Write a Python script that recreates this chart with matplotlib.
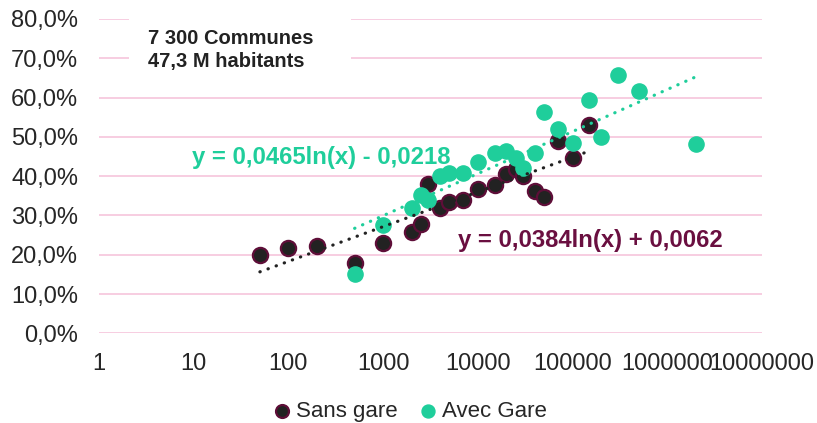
import matplotlib.pyplot as plt
import numpy as np
from matplotlib.patches import Rectangle

plt.rcParams['font.family'] = ['Liberation Sans', 'DejaVu Sans']

# population class (x) and share (y) - Sans gare
sans_x = [50, 100, 200, 500, 1000, 2000, 2500, 3000, 4000, 5000, 7000, 10000, 15000,
          20000, 25000, 30000, 40000, 50000, 70000, 100000, 150000]
sans_y = [0.199, 0.218, 0.222, 0.178, 0.230, 0.257, 0.279, 0.381, 0.320, 0.335, 0.339,
          0.367, 0.377, 0.405, 0.417, 0.400, 0.363, 0.346, 0.490, 0.445, 0.530]

# Avec gare
avec_x = [500, 1000, 2000, 2500, 3000, 4000, 5000, 7000, 10000, 15000, 20000, 25000,
          30000, 40000, 50000, 70000, 100000, 150000, 200000, 300000, 500000, 2000000]
avec_y = [0.150, 0.275, 0.318, 0.352, 0.339, 0.400, 0.409, 0.409, 0.437, 0.458, 0.465,
          0.445, 0.422, 0.458, 0.564, 0.519, 0.485, 0.595, 0.500, 0.657, 0.617, 0.482]

# trendline coefficients (y = a ln(x) + b) as shown on the chart
sans_a, sans_b = 0.0384, 0.0062
avec_a, avec_b = 0.0465, -0.0218

x_ticks = [1, 10, 100, 1000, 10000, 100000, 1000000, 10000000]
x_labels = ['1', '10', '100', '1000', '10000', '100000', '1000000', '10000000']
y_ticks = [0.0, 0.1, 0.2, 0.3, 0.4, 0.5, 0.6, 0.7, 0.8]
y_labels = ['0,0%', '10,0%', '20,0%', '30,0%', '40,0%', '50,0%', '60,0%', '70,0%', '80,0%']

green = '#1FCE9B'
dark = '#222222'
maroon = '#5E0E38'
label_maroon = '#6A0F40'
grid_pink = '#F7C9DE'

W, H = 817, 423
fig = plt.figure(figsize=(W / 100, H / 100), dpi=100)
ax = fig.add_axes([99 / W, 1 - 333.3 / H, (762 - 99) / W, (333.3 - 19) / H])

ax.set_xscale('log')
ax.set_xlim(1, 1e7)
ax.set_ylim(0, 0.8)
ax.set_xticks(x_ticks)
ax.set_xticklabels(x_labels)
ax.set_xticks([], minor=True)
ax.set_yticks(y_ticks)
ax.set_yticklabels(y_labels)
ax.tick_params(axis='both', length=0, labelsize=17, colors='#262626')
ax.tick_params(axis='x', pad=14)
ax.tick_params(axis='y', pad=15)
for s in ax.spines.values():
    s.set_visible(False)
ax.grid(axis='y', color=grid_pink, linewidth=1.3, zorder=0)
ax.set_axisbelow(True)

ax.scatter(sans_x, sans_y, s=120, color=dark, edgecolors=maroon, linewidths=1.6,
           zorder=3, label='Sans gare')
ax.scatter(avec_x, avec_y, s=120, color=green, edgecolors=green, linewidths=1.0,
           zorder=4, label='Avec Gare')

# trendlines
tx = np.logspace(np.log10(min(sans_x)), np.log10(max(sans_x)), 50)
ax.plot(tx, sans_a * np.log(tx) + sans_b, color='#222222', lw=2.3,
        linestyle=(0, (0.1, 2.6)), dash_capstyle='round', zorder=5)
tx2 = np.logspace(np.log10(min(avec_x)), np.log10(max(avec_x)), 50)
ax.plot(tx2, avec_a * np.log(tx2) + avec_b, color=green, lw=2.3,
        linestyle=(0, (0.1, 2.6)), dash_capstyle='round', zorder=5)

# white box behind annotation
ax.add_patch(Rectangle(((129 - 99) / 663, (333.3 - 72) / 314.3), (351 - 129) / 663, 62 / 314.3,
                       transform=ax.transAxes, facecolor='white', edgecolor='none', zorder=1))
ax.text((148 - 99) / 663, (333.3 - 38.5) / 314.3, '7 300 Communes', transform=ax.transAxes,
        fontsize=14.5, fontweight='bold', color='#222222', va='center', ha='left', zorder=6)
ax.text((148 - 99) / 663, (333.3 - 62) / 314.3, '47,3 M habitants', transform=ax.transAxes,
        fontsize=14.5, fontweight='bold', color='#222222', va='center', ha='left', zorder=6)

ax.text((192 - 99) / 663, (333.3 - 158) / 314.3, 'y = 0,0465ln(x) - 0,0218',
        transform=ax.transAxes, fontsize=17.2, fontweight='bold', color=green,
        va='center', ha='left', zorder=6)
ax.text((458 - 99) / 663, (333.3 - 241) / 314.3, 'y = 0,0384ln(x) + 0,0062',
        transform=ax.transAxes, fontsize=17.2, fontweight='bold', color=label_maroon,
        va='center', ha='left', zorder=6)

leg = fig.legend(loc='center', bbox_to_anchor=(411 / W, 1 - 411 / H), ncol=2, frameon=False,
                 fontsize=16, handlelength=0.6, handletextpad=0.3, columnspacing=1.1,
                 markerscale=0.85, borderaxespad=0, labelcolor='#262626')

fig.savefig('out.png', dpi=100)
